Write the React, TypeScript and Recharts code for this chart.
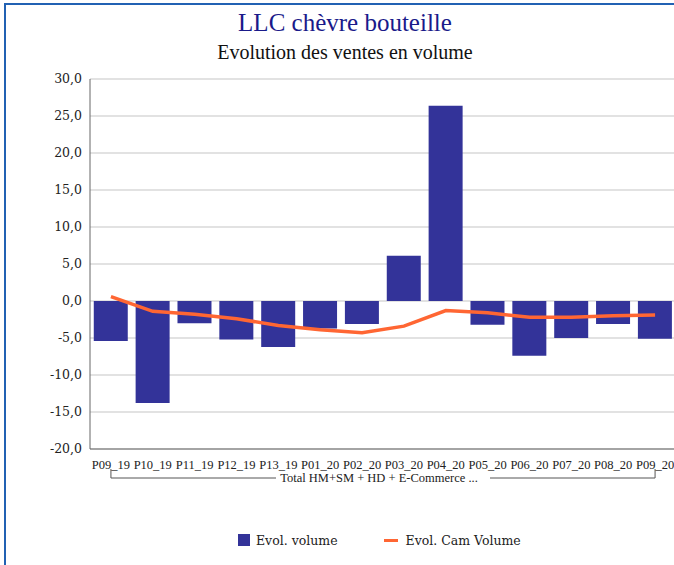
import React from 'react';
import {
  ComposedChart,
  Bar,
  Line,
  XAxis,
  YAxis,
  CartesianGrid,
  Legend,
} from 'recharts';

const periods = [
  'P09_19', 'P10_19', 'P11_19', 'P12_19', 'P13_19', 'P01_20', 'P02_20',
  'P03_20', 'P04_20', 'P05_20', 'P06_20', 'P07_20', 'P08_20', 'P09_20',
];
const evolVolume = [-5.4, -13.8, -3.0, -5.2, -6.2, -3.7, -3.1, 6.1, 26.4, -3.2, -7.4, -5.0, -3.1, -5.1];
const evolCamVolume = [0.6, -1.4, -1.8, -2.4, -3.3, -3.9, -4.3, -3.4, -1.3, -1.6, -2.2, -2.2, -2.0, -1.9];
const yTicks = [-20, -15, -10, -5, 0, 5, 10, 15, 20, 25, 30];
const groupLabel = 'Total HM+SM + HD + E-Commerce ...';
const seriesOrder = ['volume', 'cam'];

const data = periods.map((p, i) => ({
  period: p,
  volume: evolVolume[i],
  cam: evolCamVolume[i],
}));

const barColor = '#333399';
const lineColor = '#ff6633';
const serif = 'Liberation Serif, Times New Roman, serif';
const dejavu = 'DejaVu Serif, serif';

const fmt = (v: number) => v.toFixed(1).replace('.', ',');

// category labels, the first tick also draws the group bracket underneath
const PeriodTick = (props: any) => {
  const { x, y, payload, index } = props;
  const half = payload.offset || 0;
  const n = periods.length;
  let bracket = null;
  if (index === 0) {
    const x0 = x;
    const x1 = x + (n - 1) * 2 * half;
    const mid = (x0 + x1) / 2;
    const gap = 107;
    const by = y + 21;
    bracket = (
      <g>
        <path
          d={`M${x0},${by - 9}V${by}H${mid - gap}M${mid + gap},${by}H${x1}V${by - 9}`}
          stroke="#555"
          strokeWidth={1}
          fill="none"
        />
        <text
          x={mid - 4}
          y={by + 4}
          textAnchor="middle"
          fontFamily={serif}
          fontSize={12.5}
          fill="#222"
        >
          {groupLabel}
        </text>
      </g>
    );
  }
  return (
    <g>
      <text x={x} y={y + 12} textAnchor="middle" fontFamily={serif} fontSize={12.5} fill="#222">
        {payload.value}
      </text>
      {bracket}
    </g>
  );
};

const renderLegend = (props: any) => {
  const payload = [...(props.payload || [])].sort(
    (a: any, b: any) => seriesOrder.indexOf(a.dataKey) - seriesOrder.indexOf(b.dataKey)
  );
  return (
    <div style={{ display: 'flex', alignItems: 'center', height: 20 }}>
      {payload.map((entry: any, i: number) => (
        <div
          key={entry.value}
          style={{ display: 'flex', alignItems: 'center', marginRight: i === 0 ? 46 : 0 }}
        >
          {entry.type === 'square' ? (
            <span style={{ width: 12, height: 12, background: entry.color, display: 'inline-block' }} />
          ) : (
            <span style={{ width: 14, height: 3, background: entry.color, display: 'inline-block' }} />
          )}
          <span
            style={{
              fontFamily: dejavu,
              fontSize: 12.5,
              color: '#222',
              marginLeft: i === 0 ? 6 : 8,
            }}
          >
            {entry.value}
          </span>
        </div>
      ))}
    </div>
  );
};

export default function App() {
  return (
    <div
      style={{
        position: 'absolute',
        left: 0,
        top: 0,
        width: 674,
        height: 565,
        overflow: 'hidden',
        background: '#fff',
      }}
    >
      <div
        style={{
          position: 'absolute',
          left: 4,
          top: 3,
          width: 720,
          height: 620,
          borderTop: '2px solid #2161b3',
          borderLeft: '2px solid #2161b3',
        }}
      />
      <div
        style={{
          position: 'absolute',
          left: 6,
          top: 8,
          width: 678,
          textAlign: 'center',
          fontFamily: serif,
          fontSize: 25,
          lineHeight: '30px',
          color: '#1a1a8a',
        }}
      >
        LLC chèvre bouteille
      </div>
      <div
        style={{
          position: 'absolute',
          left: 6,
          top: 40,
          width: 678,
          textAlign: 'center',
          fontFamily: serif,
          fontSize: 20,
          lineHeight: '24px',
          color: '#111',
        }}
      >
        Evolution des ventes en volume
      </div>
      <div style={{ position: 'absolute', left: 6, top: 5 }}>
        <ComposedChart
          width={690}
          height={555}
          data={data}
          margin={{ top: 74, right: 20, left: 24, bottom: 51 }}
          barCategoryGap="9%"
        >
          <CartesianGrid vertical={false} stroke="#d9d9d9" strokeWidth={1.5} />
          <XAxis
            dataKey="period"
            interval={0}
            tickLine={false}
            axisLine={{ stroke: '#666' }}
            height={40}
            tick={<PeriodTick />}
          />
          <YAxis
            domain={[-20, 30]}
            ticks={yTicks}
            tickFormatter={fmt}
            width={60}
            tickLine={false}
            axisLine={{ stroke: '#666' }}
            tick={{ fontFamily: dejavu, fontSize: 12.5, fill: '#222' }}
          />
          <Bar
            dataKey="volume"
            name="Evol. volume"
            fill={barColor}
            legendType="square"
            isAnimationActive={false}
          />
          <Line
            type="linear"
            dataKey="cam"
            name="Evol. Cam Volume"
            stroke={lineColor}
            strokeWidth={3.5}
            dot={false}
            activeDot={false}
            legendType="line"
            isAnimationActive={false}
          />
          <Legend
            content={renderLegend}
            wrapperStyle={{ position: 'absolute', top: 525, left: 232, width: 400, height: 20 }}
          />
        </ComposedChart>
      </div>
    </div>
  );
}
